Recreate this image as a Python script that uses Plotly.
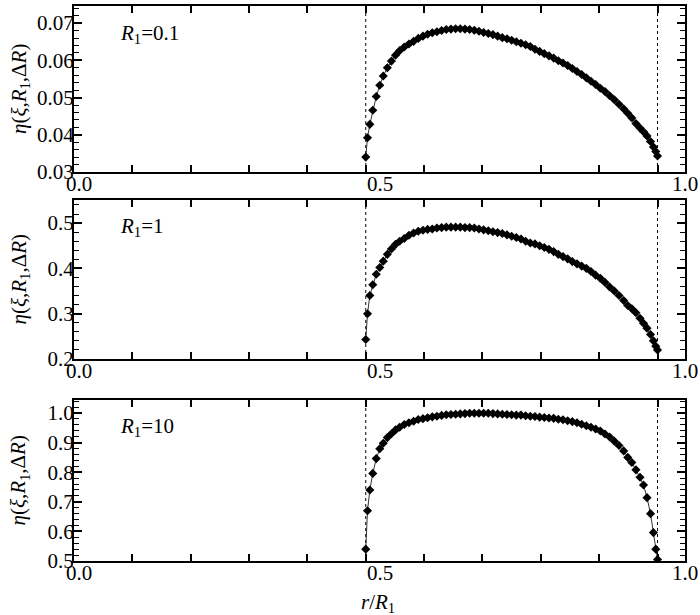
import plotly.graph_objects as go

# ---------------- data ----------------
r_over_R1 = [0.500, 0.503, 0.507, 0.512, 0.518, 0.524, 0.530, 0.537, 0.544, 0.551,
             0.558, 0.566, 0.574, 0.582, 0.590, 0.598, 0.606, 0.614, 0.622, 0.630,
             0.638, 0.646, 0.654, 0.662, 0.670, 0.678, 0.686, 0.694, 0.702, 0.710,
             0.718, 0.726, 0.734, 0.742, 0.750, 0.758, 0.766, 0.774, 0.782, 0.790,
             0.798, 0.806, 0.814, 0.822, 0.830, 0.838, 0.846, 0.854, 0.862, 0.870,
             0.878, 0.886, 0.894, 0.902, 0.910, 0.918, 0.926, 0.934, 0.942, 0.949,
             0.956, 0.963, 0.970, 0.976, 0.982, 0.988, 0.993, 0.997, 1.000]

eta_R1_0p1 = [0.0340, 0.0392, 0.0428, 0.0466, 0.0503, 0.0533, 0.0558, 0.0580, 0.0598, 0.0614,
              0.0626, 0.0636, 0.0644, 0.0651, 0.0659, 0.0665, 0.0670, 0.0674, 0.0677, 0.0680,
              0.0683, 0.0684, 0.0685, 0.0685, 0.0684, 0.0683, 0.0681, 0.0678, 0.0675, 0.0672,
              0.0669, 0.0665, 0.0661, 0.0658, 0.0654, 0.0650, 0.0646, 0.0642, 0.0637, 0.0630,
              0.0624, 0.0618, 0.0612, 0.0606, 0.0599, 0.0593, 0.0586, 0.0578, 0.0570, 0.0562,
              0.0553, 0.0544, 0.0535, 0.0525, 0.0516, 0.0505, 0.0494, 0.0482, 0.0470, 0.0458,
              0.0445, 0.0430, 0.0418, 0.0408, 0.0397, 0.0382, 0.0367, 0.0355, 0.0343]

eta_R1_1 = [0.243, 0.300, 0.340, 0.364, 0.387, 0.402, 0.416, 0.431, 0.443, 0.453,
            0.460, 0.466, 0.473, 0.478, 0.482, 0.484, 0.486, 0.487, 0.489, 0.490,
            0.491, 0.491, 0.491, 0.491, 0.490, 0.490, 0.489, 0.487, 0.485, 0.483,
            0.481, 0.479, 0.477, 0.474, 0.471, 0.468, 0.465, 0.460, 0.456, 0.454,
            0.450, 0.446, 0.442, 0.437, 0.431, 0.426, 0.421, 0.415, 0.410, 0.405,
            0.400, 0.393, 0.385, 0.378, 0.369, 0.359, 0.350, 0.340, 0.329, 0.318,
            0.311, 0.302, 0.290, 0.279, 0.268, 0.254, 0.240, 0.228, 0.220]

eta_R1_10 = [0.540, 0.670, 0.740, 0.796, 0.846, 0.879, 0.898, 0.917, 0.930, 0.943,
             0.952, 0.961, 0.967, 0.972, 0.978, 0.981, 0.984, 0.987, 0.989, 0.992,
             0.994, 0.995, 0.996, 0.997, 0.998, 0.999, 0.999, 0.999, 0.999, 0.999,
             0.998, 0.997, 0.996, 0.995, 0.994, 0.993, 0.993, 0.991, 0.989, 0.988,
             0.986, 0.985, 0.983, 0.982, 0.979, 0.977, 0.974, 0.971, 0.967, 0.962,
             0.957, 0.952, 0.946, 0.939, 0.929, 0.919, 0.905, 0.890, 0.872, 0.850,
             0.833, 0.808, 0.783, 0.757, 0.714, 0.660, 0.596, 0.540, 0.505]

panel_labels = ["<i>R</i><sub>1</sub>=0.1", "<i>R</i><sub>1</sub>=1", "<i>R</i><sub>1</sub>=10"]
x_tick_labels = ["0.0", "0.5", "1.0"]
x_tick_label_pos = [0.0, 0.5236, 1.0471]
x_tick_label_shift = [5, 0, 0]
x_minor_ticks = [0.0, 0.1, 0.2, 0.3, 0.4, 0.5, 0.6, 0.7, 0.8, 0.9, 1.0]
boundaries = [0.5, 1.0]

series = [eta_R1_0p1, eta_R1_1, eta_R1_10]
y_ranges = [[0.03, 0.0746], [0.2, 0.551], [0.5, 1.044]]
y_dticks = [0.01, 0.1, 0.1]
y_minor = [0.002, 0.02, 0.02]
y_formats = [".2f", ".1f", ".1f"]
domains = [[0.7009, 1.0], [0.364, 0.6505], [0.0, 0.2901]]

FONT = "Liberation Serif"
FS = 21
fig = go.Figure()

for i in range(3):
    ax = "" if i == 0 else str(i + 1)
    fig.add_trace(go.Scatter(
        x=r_over_R1, y=series[i], mode="lines+markers",
        xaxis="x" + ax, yaxis="y" + ax,
        line=dict(color="black", width=0.8),
        marker=dict(symbol="diamond", size=7, color="black"),
        showlegend=False, hoverinfo="skip"))
    fig.update_layout(**{
        "xaxis" + ax: dict(
            domain=[0, 1], anchor="y" + ax, range=[0, 1.0471], automargin=False,
            tickvals=x_minor_ticks, showticklabels=False,
            ticks="inside", ticklen=7, tickwidth=1.5, tickcolor="black",
            showline=True, linewidth=2, linecolor="black", mirror="ticks",
            showgrid=False, zeroline=False),
        "yaxis" + ax: dict(
            domain=domains[i], anchor="x" + ax, range=y_ranges[i], automargin=False,
            dtick=y_dticks[i], tick0=y_ranges[i][0], tickformat=y_formats[i],
            ticks="inside", ticklen=8, tickwidth=1.5, tickcolor="black",
            minor=dict(ticks="inside", ticklen=5, dtick=y_minor[i], tickwidth=1.2,
                       tickcolor="black", showgrid=False),
            showline=True, linewidth=2, linecolor="black", mirror="ticks",
            showgrid=False, zeroline=False, ticklabelstandoff=-6,
            tickfont=dict(family=FONT, size=FS, color="black")),
    })
    for b in boundaries:
        fig.add_shape(type="line", xref="x" + ax, yref="y" + ax + " domain",
                      x0=b, x1=b, y0=0, y1=1,
                      line=dict(color="black", width=1, dash="dot"))
    # x tick labels
    for t, p, s in zip(x_tick_labels, x_tick_label_pos, x_tick_label_shift):
        fig.add_annotation(text=t, x=p, xref="x" + ax, y=0, yref="y" + ax + " domain",
                           yanchor="top", xanchor="center", yshift=2, xshift=s,
                           showarrow=False,
                           font=dict(family=FONT, size=FS, color="black"))
    # panel label
    fig.add_annotation(text=panel_labels[i], x=0.075, xref="x" + ax,
                       y=0.83, yref="y" + ax + " domain", xanchor="left", yanchor="middle",
                       showarrow=False, font=dict(family=FONT, size=FS, color="black"))
    # y title
    fig.add_annotation(text="<i>η</i>(<i>ξ</i>,<i>R</i><sub>1</sub>,Δ<i>R</i>)",
                       x=-0.0884, xref="paper", y=0.5, yref="y" + ax + " domain",
                       textangle=-90, xanchor="center", yanchor="middle", showarrow=False,
                       font=dict(family=FONT, size=FS, color="black"))

fig.add_annotation(text="<i>r</i>/<i>R</i><sub>1</sub>", x=0.4975, xref="paper",
                   y=-0.075, yref="paper", xanchor="center", yanchor="middle",
                   showarrow=False, font=dict(family=FONT, size=FS, color="black"))

fig.update_layout(width=700, height=615, margin=dict(l=74, r=15, t=6, b=54),
                  paper_bgcolor="white", plot_bgcolor="white")
fig.write_html("out.html", config={"displayModeBar": False},
               post_script="document.body.style.margin='0';document.body.style.padding='0';")
